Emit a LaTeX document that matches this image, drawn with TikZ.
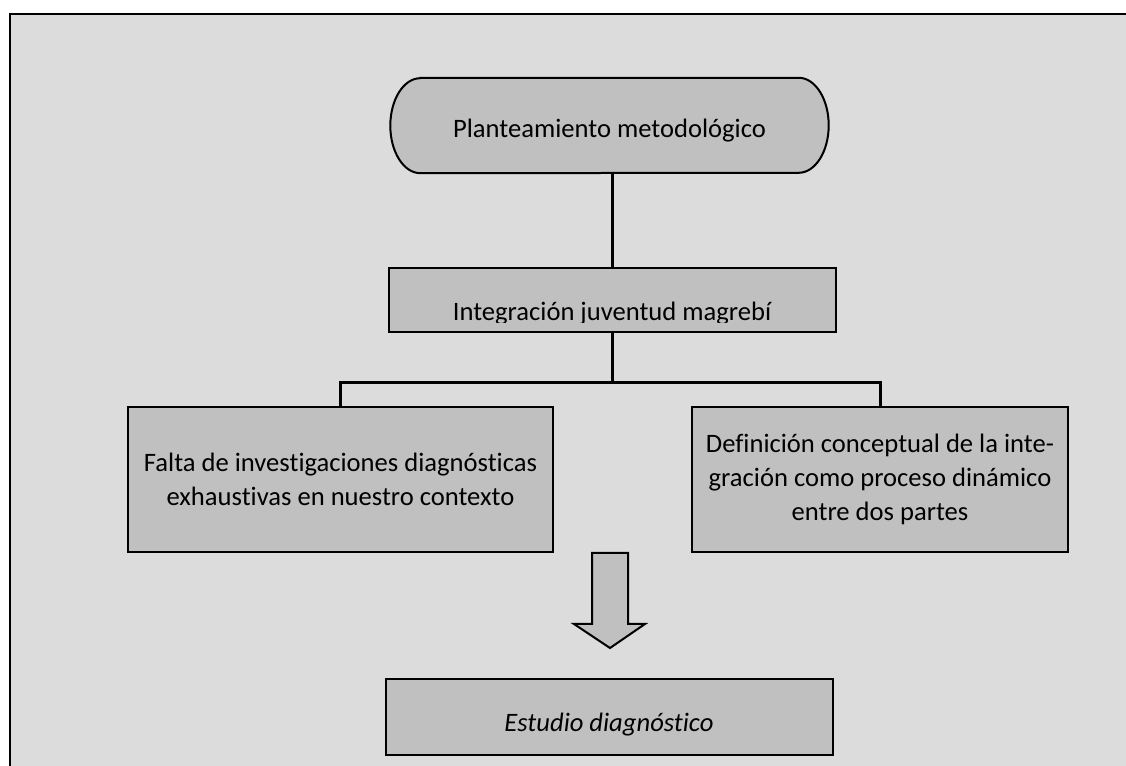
\documentclass[tikz,border=0pt]{standalone}
\usepackage{fontspec}
\setmainfont[Ligatures=NoCommon]{Carlito}
\usetikzlibrary{calc}
\definecolor{framegray}{HTML}{DCDCDC}
\definecolor{boxgray}{HTML}{C0C0C0}
\newcommand\diagfont{\fontsize{26.6}{34}\selectfont}
\begin{document}
\begin{tikzpicture}[x=1pt,y=1pt,
  box/.style={draw=black, line width=2pt, fill=boxgray, inner sep=0pt, align=center, font=\diagfont},
  conn/.style={draw=black, line width=3pt},
  blockarrow/.style={draw=black, line width=2pt, fill=boxgray, line join=miter}]
\useasboundingbox (0,0) rectangle (1126,765);
\clip (0,0) rectangle (1126,765);
% outer frame
\draw[line width=2.5pt, fill=framegray] (10,751) rectangle (1150,-20);
% top terminator
\node[inner sep=0pt, minimum width=438, minimum height=95, font=\diagfont] (p) at (609.5,639.5) {};
\path[box] ([xshift=30]p.north west) -- ([xshift=-30]p.north east)
  arc[start angle=90, end angle=-90, x radius=30, y radius=47.5]
  -- ([xshift=30]p.south west)
  arc[start angle=270, end angle=90, x radius=30, y radius=47.5] -- cycle;
\node[font=\diagfont, anchor=base] (ptext) at (609.5,627) {Planteamiento metodológico};
% integration box with clipped text
\node[box, minimum width=447, minimum height=64] (int) at (612,465) {};
\begin{scope}
  \clip ([xshift=2]int.north west) rectangle ([xshift=-2,yshift=442]int.east |- 0,0);
  \node[font=\diagfont, anchor=base] (inttext) at (612,444) {Integración juventud magrebí};
\end{scope}
% two boxes
\node[box, minimum width=425, minimum height=145] (fa) at (340.5,285.5)
  {Falta de investigaciones diagnósticas\\exhaustivas en nuestro contexto};
\node[box, minimum width=376, minimum height=145] (de) at (880,285.5)
  {Definición conceptual de la inte-\\gración como proceso dinámico\\entre dos partes};
% connectors
\coordinate (hub) at (612,382);
\draw[conn] (p.south -| int.north) -- (int.north);
\draw[conn] (int.south) -- (hub);
\draw[conn] (fa.north) -- (fa.north |- hub) -- (de.north |- hub) -- (de.north);
% block arrow
\draw[blockarrow] (592,212) -- (628,212) -- (628,141) -- (645,141) -- (610,117)
  -- (574,141) -- (592,141) -- cycle;
% final box
\node[box, minimum width=447, minimum height=76] (est) at (609.5,48) {};
\node[font=\diagfont\itshape, anchor=base] (esttext) at (609,33) {Estudio diagnóstico};
\end{tikzpicture}
\end{document}
